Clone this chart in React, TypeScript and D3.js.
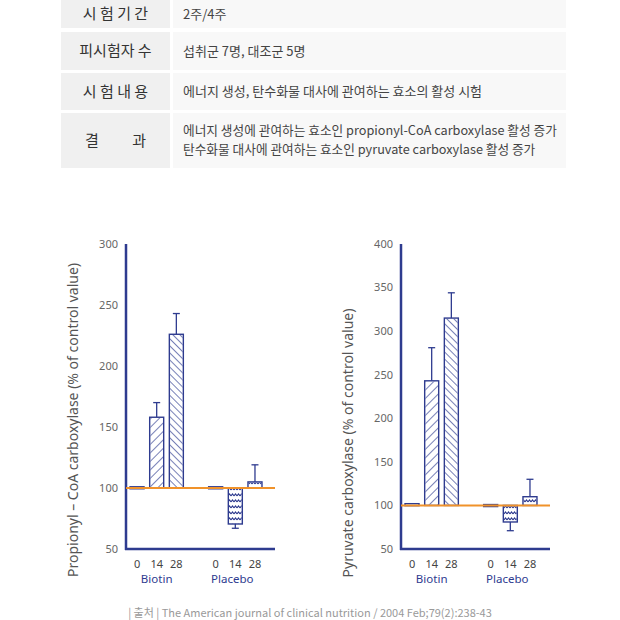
import React from "react";
import * as d3 from "d3";

const tableLabels = ["시 험 기 간", "피시험자 수", "시 험 내 용", "결          과"];
const tableValues = [
  ["2주/4주"],
  ["섭취군 7명, 대조군 5명"],
  ["에너지 생성, 탄수화물 대사에 관여하는 효소의 활성 시험"],
  ["에너지 생성에 관여하는 효소인 propionyl-CoA carboxylase 활성 증가", "탄수화물 대사에 관여하는 효소인 pyruvate carboxylase 활성 증가"],
];

const slots = ["b0", "b14", "b28", "gap", "p0", "p14", "p28"];
const dayLabels = ["0", "14", "28", "", "0", "14", "28"];
const groupLabels = ["Biotin", "Placebo"];
const fills = ["none", "diagR", "diagL", "", "none", "wave", "wave"];

const propionylValues = [101, 158, 226, null, 101, 70.5, 105];
const propionylErrors = [null, 170, 243, null, null, 67, 119];
const propionylTicks = [50, 100, 150, 200, 250, 300];

const pyruvateValues = [102, 243, 315, null, 101, 81, 110];
const pyruvateErrors = [null, 281, 344, null, null, 71, 130];
const pyruvateTicks = [50, 100, 150, 200, 250, 300, 350, 400];

const NAVY = "#2e3b8f";
const ORANGE = "#f0922a";

function Chart({ x0, values, errors, ticks, title, titleY }) {
  const y = d3.scaleLinear().domain([50, ticks[ticks.length - 1]]).range([549, 244]);
  const x = d3.scaleBand().domain(slots).range([x0 + 1, x0 + 139]).paddingInner(0.28).paddingOuter(0.15);
  const bw = 14;
  const cx = (s) => (x(s) as number) + x.bandwidth() / 2;
  const bx = (s) => cx(s) - bw / 2;
  return (
    <g>
      <text
        transform={`translate(${x0 - 48},${titleY}) rotate(-90)`}
        textAnchor="middle"
        fontSize={14}
        fill="#555"
        fontFamily="'Noto Sans', sans-serif"
      >
        {title}
      </text>
      {ticks.map((t) => (
        <text key={t} x={x0 - 8} y={y(t)} dy="0.35em" textAnchor="end" fontSize={11} fill="#666" fontFamily="'Noto Sans', sans-serif">
          {t}
        </text>
      ))}
      {slots.map((s, i) => {
        const v = values[i];
        if (v == null) return null;
        const top = Math.min(y(v), y(100));
        const h = Math.abs(y(v) - y(100));
        const e = errors[i];
        const edge = y(v);
        return (
          <g key={s}>
            {e != null && (
              <g stroke={NAVY} strokeWidth={1.3}>
                <line x1={cx(s)} x2={cx(s)} y1={edge} y2={y(e)} />
                <line x1={cx(s) - 3.5} x2={cx(s) + 3.5} y1={y(e)} y2={y(e)} />
              </g>
            )}
            <rect x={bx(s)} y={top} width={bw} height={Math.max(h, 2)} fill="white" stroke={NAVY} strokeWidth={1.4} />
            {fills[i] !== "none" && (
              <rect x={bx(s) + 0.7} y={top + 0.7} width={bw - 1.4} height={Math.max(h - 1.4, 0)} fill={`url(#${fills[i]})`} />
            )}
          </g>
        );
      })}
      <line x1={x0} x2={x0} y1={244} y2={550} stroke={NAVY} strokeWidth={2.5} />
      <line x1={x0 - 1} x2={x0 + 149} y1={549} y2={549} stroke={NAVY} strokeWidth={2.5} />
      <line x1={x0} x2={x0 + 149} y1={y(100)} y2={y(100)} stroke={ORANGE} strokeWidth={2} />
      {slots.map((s, i) =>
        dayLabels[i] ? (
          <text key={"d" + s} x={cx(s)} y={568} textAnchor="middle" fontSize={11} fill="#444" fontFamily="'Noto Sans', sans-serif">
            {dayLabels[i]}
          </text>
        ) : null
      )}
      {groupLabels.map((g, gi) => (
        <text key={g} x={cx(slots[gi * 4 + 1]) - gi * 3} y={583} textAnchor="middle" fontSize={11.5} fill={NAVY} fontFamily="'Noto Sans', sans-serif">
          {g}
        </text>
      ))}
    </g>
  );
}

const rowTops = [0, 32, 73, 113];
const rowBottoms = [28, 70, 110, 168];

export default function App() {
  return (
    <svg width={620} height={620} style={{ position: "absolute", left: 0, top: 0, background: "white" }}>
      <defs>
        <pattern id="diagR" width={6} height={6} patternUnits="userSpaceOnUse" patternTransform="rotate(45)">
          <line x1={0} y1={0} x2={0} y2={6} stroke={NAVY} strokeWidth={1.3} />
        </pattern>
        <pattern id="diagL" width={5} height={5} patternUnits="userSpaceOnUse" patternTransform="rotate(-45)">
          <line x1={0} y1={0} x2={0} y2={5} stroke={NAVY} strokeWidth={1.3} />
        </pattern>
        <pattern id="wave" width={3} height={6} patternUnits="userSpaceOnUse">
          <path d="M0,4 L1.5,2 L3,4" fill="none" stroke={NAVY} strokeWidth={1.1} />
        </pattern>
      </defs>
      {tableLabels.map((l, i) => {
        const t = rowTops[i];
        const b = rowBottoms[i];
        const mid = (t + b) / 2;
        const lines = tableValues[i];
        return (
          <g key={i} fontFamily="'Noto Sans CJK KR', 'Noto Sans', sans-serif">
            <rect x={61} y={t} width={109} height={b - t} fill="#f0f0f0" />
            <rect x={173} y={t} width={393} height={b - t} fill="#f8f8f8" />
            <text x={115.5} y={mid} dy="0.35em" textAnchor="middle" fontSize={15} fill="#333" style={{ whiteSpace: "pre" }}>
              {l}
            </text>
            {lines.map((ln, j) => (
              <text
                key={j}
                x={183}
                y={mid + (j - (lines.length - 1) / 2) * 19}
                dy="0.35em"
                fontSize={i < 3 ? 13 : 12.7}
                fill="#444"
              >
                {ln}
              </text>
            ))}
          </g>
        );
      })}
      <Chart x0={126} values={propionylValues} errors={propionylErrors} ticks={propionylTicks} title="Propionyl – CoA carboxylase (% of control value)" titleY={420} />
      <Chart x0={401} values={pyruvateValues} errors={pyruvateErrors} ticks={pyruvateTicks} title="Pyruvate carboxylase (% of control value)" titleY={443} />
      <text x={310} y={617} textAnchor="middle" fontSize={11} fill="#999" fontFamily="'Noto Sans CJK KR', 'Noto Sans', sans-serif">
        | 출처 | The American journal of clinical nutrition / 2004 Feb;79(2):238-43
      </text>
    </svg>
  );
}
